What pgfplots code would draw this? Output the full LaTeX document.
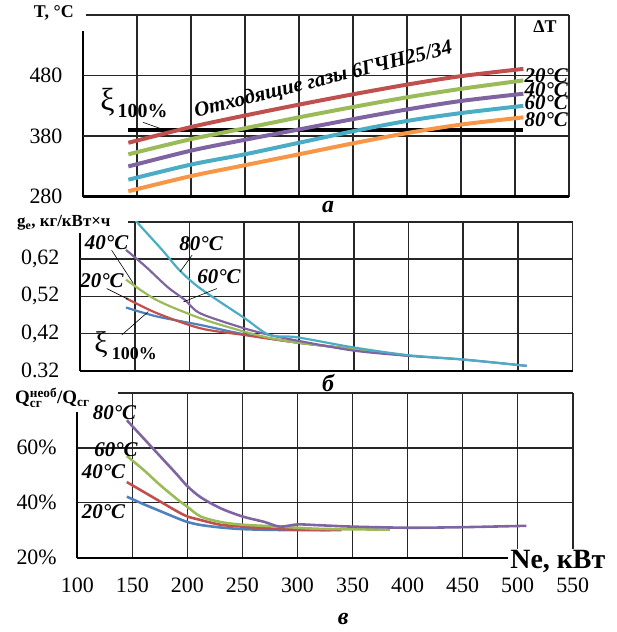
\documentclass[border=0pt]{standalone}
\usepackage{fontspec}
\setmainfont{Liberation Serif}
\usepackage{amsmath}
\usepackage{pgfplots}
\pgfplotsset{compat=1.18}
\definecolor{cred}{HTML}{C0504D}
\definecolor{cgreen}{HTML}{9BBB59}
\definecolor{cpurple}{HTML}{8064A2}
\definecolor{ccyan}{HTML}{4BACC6}
\definecolor{corange}{HTML}{F79646}
\definecolor{cblue}{HTML}{4F81BD}
\newcommand\fs[1]{\fontsize{#1}{#1}\selectfont}

\pgfplotsset{
  panel/.style={
    scale only axis, anchor=south west,
    axis lines=left, axis line style={-, line width=2.4pt, black},
    xmajorgrids=true, ymajorgrids=true,
    major grid style={line width=1.6pt, black!85},
    tick style={draw=none},
    xmin=100, xmax=550, xtick={100,150,...,550},
    tick label style={font=\fs{22}},
    yticklabel style={xshift=-15pt},
    xticklabel style={yshift=-15pt},
    /pgf/number format/assume math mode=true,
    clip mode=individual,
  },
}
\tikzset{curvelab/.style={font=\fs{21}\bfseries\itshape, inner sep=0pt},
  gridline/.style={line width=1.6pt, black!85}}

\begin{document}
\begin{tikzpicture}
\useasboundingbox (0,0) rectangle (617bp,632bp);

% ---- a: exhaust gas temperature
\begin{axis}[panel, at={(83bp,435.3bp)}, width=485.7bp, height=181.7bp,
  ymin=280, ymax=580, ytick={280,380,480,580}, yticklabels={280,380,480,{}},
  xticklabels={}]
% horizontal grid lines
\addplot[gridline, forget plot] coordinates {(100,380) (550,380)};
\addplot[gridline, forget plot] coordinates {(100,480) (550,480)};
\addplot[gridline, forget plot] coordinates {(100,579.2) (550,579.2)};
\fill[white] (axis cs:55,606) rectangle (axis cs:103,553);
\addplot[black, line width=4pt] coordinates {(142,390) (508,390)};
\addplot[corange, line width=4pt, smooth] coordinates {
 (142,289) (200,314) (250,332) (300,350) (350,368) (400,385) (450,399) (508,411)};
\addplot[ccyan, line width=4pt, smooth] coordinates {
 (142,308) (200,333) (250,350) (300,369) (350,388) (400,405) (450,418) (508,430)};
\addplot[cpurple, line width=4pt, smooth] coordinates {
 (142,330) (200,356) (250,374) (300,391) (350,408) (400,424) (450,438) (508,450)};
\addplot[cgreen, line width=4pt, smooth] coordinates {
 (142,350) (200,375) (250,393) (300,411) (350,428) (400,444) (450,458) (508,472)};
\addplot[cred, line width=4pt, smooth] coordinates {
 (142,369) (200,395) (250,414) (300,432) (350,449) (400,465) (450,479) (508,491)};
\node[font=\fs{18}\bfseries] at (axis cs:73,583) {T, °C};
\node[font=\fs{18}\bfseries] at (axis cs:528,561) {ΔT};
\node[curvelab, anchor=west] at (axis cs:509,479.5) {20°C};
\node[curvelab, anchor=west] at (axis cs:509,456) {40°C};
\node[curvelab, anchor=west] at (axis cs:509,436) {60°C};
\node[curvelab, anchor=west] at (axis cs:509,408) {80°C};
\node[anchor=base west, rotate=14, inner sep=0pt, font=\fs{21}\bfseries\itshape]
  at (axis cs:204.6,411) {Отходящие газы 6ГЧН25/34};
\node[anchor=base west, inner sep=0pt, font=\fs{32}] at (axis cs:116,423) {ξ};
\node[anchor=base west, inner sep=0pt, font=\fs{20}\bfseries] at (axis cs:132,411) {100\%};
\draw[black, line width=0.6pt] (axis cs:155.6,402.8) -- (axis cs:171.3,392.8);
\node[font=\fs{24}\bfseries\itshape] at (axis cs:327,263) {а};
\end{axis}

% ---- b: specific fuel consumption
\begin{axis}[panel, at={(80bp,261.3bp)}, width=492.7bp, height=148.7bp,
  ymin=0.32, ymax=0.72, ytick={0.32,0.42,0.52,0.62,0.72},
  yticklabels={0.32,{0,42},{0,52},{0,62},{}}, xticklabels={}]
\addplot[gridline, forget plot] coordinates {(100,0.42) (550,0.42)};
\addplot[gridline, forget plot] coordinates {(100,0.52) (550,0.52)};
\addplot[gridline, forget plot] coordinates {(100,0.62) (550,0.62)};
\addplot[gridline, forget plot] coordinates {(100,0.7185) (550,0.7185)};
\fill[white] (axis cs:30,0.75) rectangle (axis cs:143.5,0.69);
\addplot[cblue, line width=2.2pt, smooth] coordinates {
 (142,0.49) (170,0.466) (210,0.443) (250,0.418) (300,0.395) (350,0.378)};
\addplot[cred, line width=2.2pt, smooth] coordinates {
 (142,0.515) (170,0.475) (210,0.434) (250,0.416) (275,0.405) (300,0.395) (350,0.378) (400,0.36)};
\addplot[cgreen, line width=2.2pt, smooth] coordinates {
 (142,0.565) (170,0.51) (210,0.461) (250,0.425) (275,0.407) (300,0.395) (350,0.378) (400,0.36)};
\addplot[cpurple, line width=2.2pt, smooth] coordinates {
 (142,0.645) (160,0.60) (180,0.545) (196,0.51) (210,0.474) (250,0.434) (275,0.415)
 (300,0.40) (350,0.374) (400,0.36) (450,0.35) (508,0.333)};
\addplot[ccyan, line width=2.2pt, smooth] coordinates {
 (142,0.76) (152,0.72) (175,0.645) (191,0.59) (210,0.541) (250,0.462) (273,0.416)
 (298,0.41) (349,0.383) (399,0.362) (450,0.35) (508,0.333)};
\node[anchor=west, inner sep=0pt, font=\fs{17}\bfseries] at (axis cs:42.4,0.717)
  {g\textsubscript{e}, кг/кВт×ч};
\node[curvelab] at (axis cs:124.3,0.664) {40°C};
\node[curvelab] at (axis cs:120.1,0.562) {20°C};
\node[curvelab] at (axis cs:210.6,0.663) {80°C};
\node[curvelab] at (axis cs:227,0.572) {60°C};
\node[anchor=base west, inner sep=0pt, font=\fs{30}] at (axis cs:113,0.37) {ξ};
\node[anchor=base west, inner sep=0pt, font=\fs{18}\bfseries] at (axis cs:129,0.349) {100\%};
\draw[black, line width=0.6pt] (axis cs:128.9,0.644) -- (axis cs:148.7,0.555);
\draw[black, line width=0.6pt] (axis cs:124.4,0.541) -- (axis cs:144.1,0.512);
\draw[black, line width=0.6pt] (axis cs:138.1,0.416) -- (axis cs:162.4,0.479);
\draw[black, line width=0.6pt] (axis cs:191.4,0.586) -- (axis cs:202.4,0.631);
\draw[black, line width=0.6pt] (axis cs:194.4,0.505) -- (axis cs:225,0.541);
\node[font=\fs{24}\bfseries\itshape] at (axis cs:326.7,0.287) {б};
\end{axis}

% ---- c: share of heat
\begin{axis}[panel, at={(77.3bp,74.3bp)}, width=495.4bp, height=165bp,
  ymin=20, ymax=80, ytick={20,40,60,80}, yticklabels={20\%,40\%,60\%,{}}]
\addplot[gridline, forget plot] coordinates {(100,40) (550,40)};
\addplot[gridline, forget plot] coordinates {(100,60) (550,60)};
\addplot[gridline, forget plot] coordinates {(100,79.7) (550,79.7)};
\fill[white] (axis cs:35,83) rectangle (axis cs:137,73.1);
\addplot[cblue, line width=2.6pt, smooth] coordinates {
 (145,42.2) (160,39.5) (175,37) (190,34.5) (200,33) (212,31.9) (230,31) (250,30.4) (280,30.1) (330,30)};
\addplot[cred, line width=2.6pt, smooth] coordinates {
 (145,47.5) (160,44) (175,40.5) (190,37) (200,35) (212,33.7) (230,32) (250,31.3) (280,30.5) (300,30.2) (340,30)};
\addplot[cgreen, line width=2.6pt, smooth] coordinates {
 (145,57) (160,52) (175,46.5) (190,41.5) (200,38.5) (212,35) (230,33) (250,32) (284,31.3) (320,30.5) (384,30.2)};
\addplot[cpurple, line width=2.6pt, smooth] coordinates {
 (145,70) (160,63.5) (175,57) (190,50.5) (200,46) (212,42) (230,38) (250,35) (270,33) (284,31.3)
 (300,32.1) (320,31.8) (350,31.3) (400,30.9) (450,31.1) (508,31.6)};
\node[anchor=west, inner sep=0pt, font=\fs{19}\bfseries] at (axis cs:43.4,78.1)
  {Q$_{\text{сг}}^{\text{необ}}$/Q$_{\text{сг}}$};
\node[curvelab] at (axis cs:133.8,72.6) {80°C};
\node[curvelab] at (axis cs:135.2,59.2) {60°C};
\node[curvelab] at (axis cs:123.8,51.3) {40°C};
\node[curvelab] at (axis cs:123.8,36.7) {20°C};
\node[fill=white, inner sep=2pt, font=\fs{28}\bfseries] at (axis cs:536.5,18.5) {Ne, кВт};
\node[font=\fs{24}\bfseries\itshape] at (axis cs:341.5,-2.3) {в};
\end{axis}
\end{tikzpicture}
\end{document}
